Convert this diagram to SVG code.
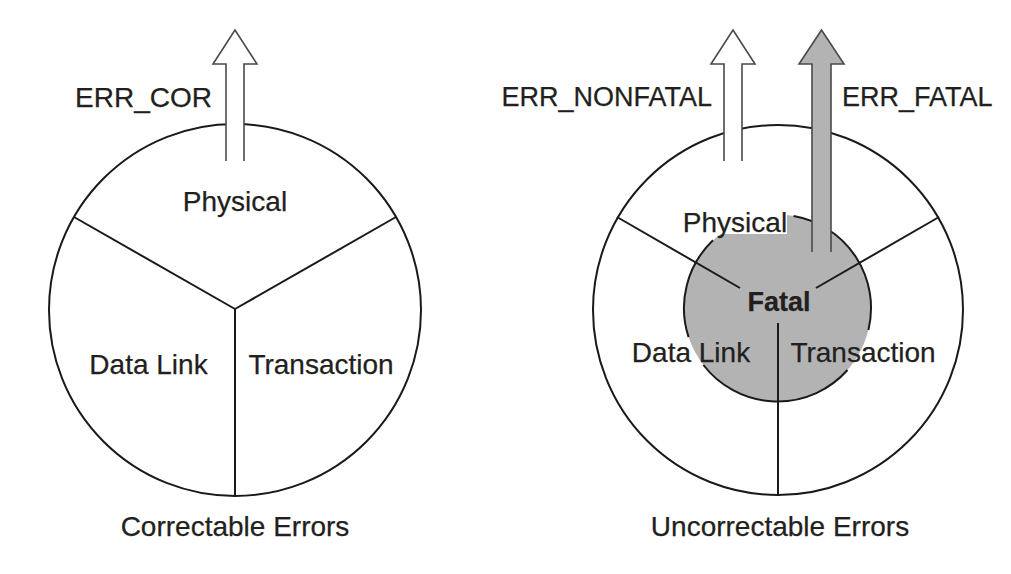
<svg xmlns="http://www.w3.org/2000/svg" width="1011" height="574" viewBox="0 0 1011 574">
<style>
.ln{fill:none;stroke:#1a1a1a;stroke-width:2}
.tx{font-family:"Liberation Sans",Arial,sans-serif;font-size:28px;fill:#231f20;stroke:#231f20;stroke-width:0.25}
.sm{font-size:27px}
.b{font-weight:bold}
.arw{stroke:#4a4a4a;stroke-width:1.6;stroke-linejoin:miter}
</style>
<rect width="1011" height="574" fill="#ffffff"/>
<g id="correctable">
  <circle class="ln" cx="235" cy="310" r="186"/>
  <g id="correctable-spokes">
    <line class="ln" x1="235" y1="309" x2="74" y2="217"/>
    <line class="ln" x1="235" y1="309" x2="396" y2="217"/>
    <line class="ln" x1="235" y1="309" x2="235" y2="496"/>
  </g>
  <text class="tx" x="235" y="211" text-anchor="middle">Physical</text>
  <text class="tx" x="148.5" y="374" text-anchor="middle">Data Link</text>
  <text class="tx" x="321" y="374" text-anchor="middle">Transaction</text>
  <text class="tx" x="235" y="536" text-anchor="middle">Correctable Errors</text>
</g>
<g id="uncorrectable">
  <circle class="ln" cx="778" cy="310" r="185"/>
  <g id="fatal">
    <circle cx="777.5" cy="308" r="93.5" fill="#b3b3b3"/>
    <rect x="682" y="203" width="105" height="31" fill="#ffffff"/>
    <path class="ln" d="M793.6,215.9 A93.5,93.5 0 0 1 868.4,330.0 M847.5,370.0 A93.5,93.5 0 0 1 703.4,365.0 M688.6,337.1 A93.5,93.5 0 0 1 713.0,240.3"/>
    <text class="tx b sm" x="779" y="311" text-anchor="middle">Fatal</text>
  </g>
  <g id="uncorrectable-spokes">
    <line class="ln" x1="617" y1="217" x2="740" y2="288"/>
    <line class="ln" x1="939" y1="217" x2="816" y2="288"/>
    <line class="ln" x1="778" y1="323" x2="778" y2="496"/>
  </g>
  <text class="tx" x="735" y="232" text-anchor="middle">Physical</text>
  <text class="tx" x="691" y="362" text-anchor="middle">Data Link</text>
  <text class="tx" x="863" y="362" text-anchor="middle">Transaction</text>
  <text class="tx" x="780" y="536" text-anchor="middle">Uncorrectable Errors</text>
</g>
<g id="connectors">
  <path id="arrow-err-cor" class="arw" fill="#ffffff" d="M226,161 L226,64 L213,64 L235,30 L257,64 L244,64 L244,161"/>
  <path id="arrow-err-nonfatal" class="arw" fill="#ffffff" d="M724,161 L724,64 L711,64 L733,30 L755,64 L742,64 L742,161"/>
  <path id="arrow-err-fatal" class="arw" fill="#b3b3b3" d="M812,252 L812,64 L799,64 L821.5,30 L844,64 L831,64 L831,252"/>
</g>
<g id="labels">
  <text class="tx" x="212" y="107" text-anchor="end">ERR_COR</text>
  <text class="tx sm" x="712" y="106" text-anchor="end">ERR_NONFATAL</text>
  <text class="tx sm" x="842" y="106">ERR_FATAL</text>
</g>
</svg>
